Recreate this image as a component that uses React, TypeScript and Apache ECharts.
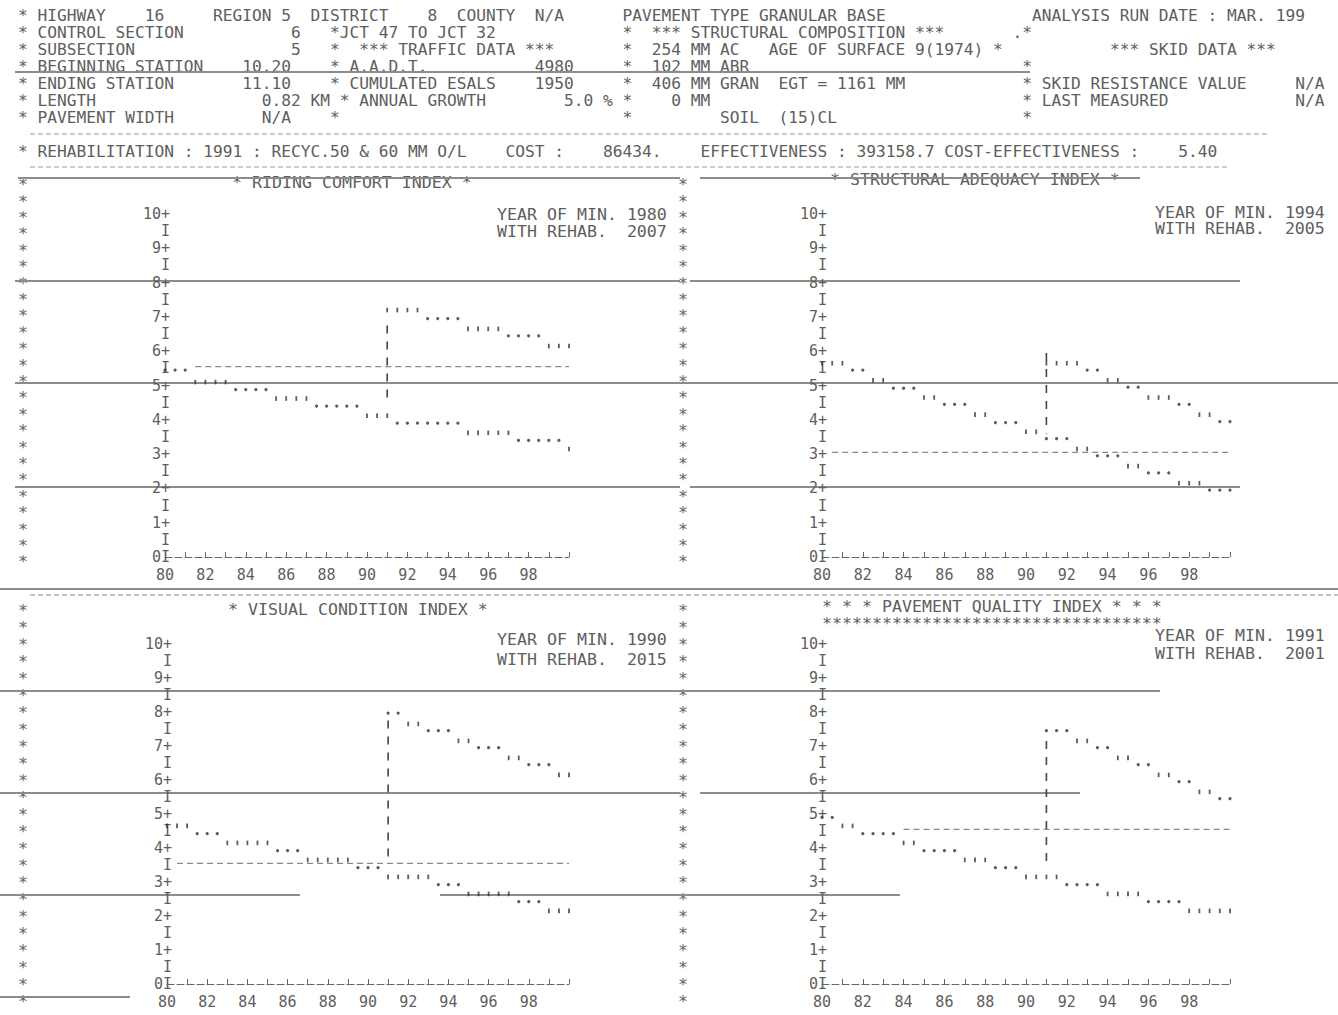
import React, { useEffect, useRef } from "react";
import * as echarts from "echarts";

// ---------------- data ----------------
const years = [80, 80.5, 81, 81.5, 82, 82.5, 83, 83.5, 84, 84.5, 85, 85.5, 86, 86.5, 87, 87.5, 88, 88.5, 89, 89.5, 90, 90.5, 91, 91.5, 92, 92.5, 93, 93.5, 94, 94.5, 95, 95.5, 96, 96.5, 97, 97.5, 98, 98.5, 99, 99.5, 100];
const rehabYears = [91, 91.5, 92, 92.5, 93, 93.5, 94, 94.5, 95, 95.5, 96, 96.5, 97, 97.5, 98, 98.5, 99, 99.5, 100];
const xTickLabels = ["80", "82", "84", "86", "88", "90", "92", "94", "96", "98"];
const rehabYear = 91;

// Riding Comfort Index
const rciNoRehab = [5.45, 5.45, 5.45, 5.1, 5.1, 5.1, 5.1, 4.88, 4.88, 4.88, 4.88, 4.62, 4.62, 4.62, 4.62, 4.4, 4.4, 4.4, 4.4, 4.4, 4.12, 4.12, 4.12, 3.9, 3.9, 3.9, 3.9, 3.9, 3.9, 3.9, 3.62, 3.62, 3.62, 3.62, 3.62, 3.4, 3.4, 3.4, 3.4, 3.4, 3.15];
const rciRehab = [7.2, 7.2, 7.2, 7.2, 6.95, 6.95, 6.95, 6.95, 6.65, 6.65, 6.65, 6.65, 6.45, 6.45, 6.45, 6.45, 6.15, 6.15, 6.15];
const rciConnector = [6.75, 4.55];
const rciTrigger = [5.55, 81.5, 100];

// Structural Adequacy Index
const saiNoRehab = [5.65, 5.65, 5.65, 5.45, 5.45, 5.15, 5.15, 4.92, 4.92, 4.92, 4.65, 4.65, 4.45, 4.45, 4.45, 4.15, 4.15, 3.92, 3.92, 3.92, 3.65, 3.65, 3.45, 3.45, 3.45, 3.15, 3.15, 2.95, 2.95, 2.95, 2.65, 2.65, 2.45, 2.45, 2.45, 2.15, 2.15, 2.15, 1.95, 1.95, 1.95];
const saiRehab = [5.65, 5.65, 5.65, 5.65, 5.45, 5.45, 5.15, 5.15, 4.95, 4.95, 4.65, 4.65, 4.65, 4.45, 4.45, 4.15, 4.15, 3.95, 3.95];
const saiConnector = [5.95, 3.6];
const saiTrigger = [3.05, 80.5, 100];

// Visual Condition Index
const vciNoRehab = [4.65, 4.65, 4.65, 4.42, 4.42, 4.42, 4.15, 4.15, 4.15, 4.15, 4.15, 3.92, 3.92, 3.92, 3.65, 3.65, 3.65, 3.65, 3.65, 3.42, 3.42, 3.42, 3.15, 3.15, 3.15, 3.15, 3.15, 2.92, 2.92, 2.92, 2.65, 2.65, 2.65, 2.65, 2.65, 2.42, 2.42, 2.42, 2.15, 2.15, 2.15];
const vciRehab = [7.97, 7.97, 7.65, 7.65, 7.45, 7.45, 7.45, 7.15, 7.15, 6.95, 6.95, 6.95, 6.65, 6.65, 6.45, 6.45, 6.45, 6.15, 6.15];
const vciConnector = [7.75, 3.55];
const vciTrigger = [3.55, 80.5, 100];

// Pavement Quality Index
const pqiNoRehab = [4.9, 4.9, 4.65, 4.65, 4.42, 4.42, 4.42, 4.42, 4.15, 4.15, 3.92, 3.92, 3.92, 3.92, 3.65, 3.65, 3.65, 3.42, 3.42, 3.42, 3.15, 3.15, 3.15, 3.15, 2.92, 2.92, 2.92, 2.92, 2.65, 2.65, 2.65, 2.65, 2.42, 2.42, 2.42, 2.42, 2.15, 2.15, 2.15, 2.15, 2.15];
const pqiRehab = [7.45, 7.45, 7.45, 7.15, 7.15, 6.95, 6.95, 6.65, 6.65, 6.45, 6.45, 6.15, 6.15, 5.95, 5.95, 5.65, 5.65, 5.45, 5.45];
const pqiConnector = [7.15, 3.45];
const pqiTrigger = [4.55, 84, 100];

// ---------------- texts (row y, printer column, text) ----------------
const headerRows: [number, number, string][][] = [
  [[16, 0, "* HIGHWAY"], [16, 13, "16"], [16, 20, "REGION 5"], [16, 30, "DISTRICT"], [16, 42, "8"], [16, 45, "COUNTY"], [16, 53, "N/A"], [16, 62, "PAVEMENT TYPE GRANULAR BASE"], [16, 104, "ANALYSIS RUN DATE : MAR. 199"]],
  [[33, 0, "* CONTROL SECTION"], [33, 28, "6"], [33, 32, "*JCT 47 TO JCT 32"], [33, 62, "*"], [33, 65, "*** STRUCTURAL COMPOSITION ***"], [33, 102, ".*"]],
  [[50, 0, "* SUBSECTION"], [50, 28, "5"], [50, 32, "*"], [50, 35, "*** TRAFFIC DATA ***"], [50, 62, "*"], [50, 65, "254 MM AC"], [50, 77, "AGE OF SURFACE"], [50, 92, "9(1974)"], [50, 100, "*"], [50, 112, "*** SKID DATA ***"]],
  [[67, 0, "* BEGINNING STATION"], [67, 23, "10.20"], [67, 32, "* A.A.D.T."], [67, 53, "4980"], [67, 62, "*"], [67, 65, "102 MM ABR"], [67, 103, "*"]],
  [[84, 0, "* ENDING STATION"], [84, 23, "11.10"], [84, 32, "* CUMULATED ESALS"], [84, 53, "1950"], [84, 62, "*"], [84, 65, "406 MM GRAN  EGT = 1161 MM"], [84, 103, "* SKID RESISTANCE VALUE"], [84, 131, "N/A"]],
  [[101, 0, "* LENGTH"], [101, 25, "0.82 KM * ANNUAL GROWTH"], [101, 56, "5.0 % *"], [101, 67, "0 MM"], [101, 103, "* LAST MEASURED"], [101, 131, "N/A"]],
  [[118, 0, "* PAVEMENT WIDTH"], [118, 25, "N/A"], [118, 32, "*"], [118, 62, "*"], [118, 72, "SOIL  (15)CL"], [118, 103, "*"]],
  [[152, 0, "* REHABILITATION : 1991 : RECYC.50 & 60 MM O/L"], [152, 50, "COST :"], [152, 60, "86434."], [152, 70, "EFFECTIVENESS : 393158.7 COST-EFFECTIVENESS :"], [152, 119, "5.40"]],
];

const panelTitles = ["* RIDING COMFORT INDEX *", "* STRUCTURAL ADEQUACY INDEX *", "* VISUAL CONDITION INDEX *", "* * * PAVEMENT QUALITY INDEX * * *"];
const yearOfMin = ["YEAR OF MIN. 1980", "YEAR OF MIN. 1994", "YEAR OF MIN. 1990", "YEAR OF MIN. 1991"];
const withRehab = ["WITH REHAB.  2007", "WITH REHAB.  2005", "WITH REHAB.  2015", "WITH REHAB.  2001"];

// ---------------- layout / style ----------------
const MONO = '"DejaVu Sans Mono", "Liberation Mono", monospace';
const PITCH = 9.75;
const SX = 10 / 9.03;
const SXH = PITCH / 9.03;
const TEXT = "#5e5e5e";
const DOT = "#333";

const layout = [
  { left: 165, top: 214, width: 404, height: 343, titleX: 232, titleY: 183, infoX: 497, infoY: [215, 232] },
  { left: 822, top: 214, width: 408, height: 343, titleX: 830, titleY: 180, infoX: 1155, infoY: [213, 229] },
  { left: 167, top: 644, width: 402, height: 340, titleX: 228, titleY: 610, infoX: 497, infoY: [640, 660] },
  { left: 822, top: 644, width: 408, height: 340, titleX: 822, titleY: 607, infoX: 1155, infoY: [636, 654] },
];

function txt(x: number, y: number, s: string, fill = TEXT, sx = SX) {
  return {
    type: "text",
    x,
    y,
    scaleX: sx,
    silent: true,
    style: { text: s, font: `15px ${MONO}`, fill, verticalAlign: "middle", textVerticalAlign: "middle", align: "left" },
  };
}
function hline(x1: number, x2: number, y: number, color = "#7e7e7e", w = 2, dash?: number[]) {
  return {
    type: "line",
    silent: true,
    shape: { x1, y1: y, x2, y2: y },
    style: { stroke: color, lineWidth: w, lineDash: dash },
  };
}

function glyphSymbol(val: number[]) {
  const y = val[1];
  const d = y - Math.round(y * 2) / 2;
  return d > 0.001 ? "rect" : "circle";
}
function glyphSize(val: number[]) {
  const y = val[1];
  const d = y - Math.round(y * 2) / 2;
  return d > 0.001 ? [1.8, 4.6] : 3.2;
}

function buildOption() {
  const noRehabs = [rciNoRehab, saiNoRehab, vciNoRehab, pqiNoRehab];
  const rehabs = [rciRehab, saiRehab, vciRehab, pqiRehab];
  const connectors = [rciConnector, saiConnector, vciConnector, pqiConnector];
  const triggers = [rciTrigger, saiTrigger, vciTrigger, pqiTrigger];

  const grid: any[] = [];
  const xAxis: any[] = [];
  const yAxis: any[] = [];
  const series: any[] = [];
  const graphic: any[] = [];

  layout.forEach((L, i) => {
    grid.push({ left: L.left, top: L.top, width: L.width, height: L.height, containLabel: false });
    xAxis.push({
      gridIndex: i,
      type: "value",
      min: 80,
      max: 100,
      interval: 2,
      axisLine: { show: true, lineStyle: { color: "#666", width: 1, type: [7, 3] } },
      axisTick: { show: true, inside: true, length: 5, lineStyle: { color: "#666" } },
      minorTick: { show: true, splitNumber: 2, length: 5, lineStyle: { color: "#666" } },
      splitLine: { show: false },
      axisLabel: {
        margin: 10,
        fontFamily: MONO,
        fontSize: 15,
        color: TEXT,
        formatter: (v: number) => xTickLabels[(v - 80) / 2] ?? "",
      },
    });
    yAxis.push({
      gridIndex: i,
      type: "value",
      min: 0,
      max: 10,
      interval: 0.5,
      axisLine: { show: false },
      axisTick: { show: false },
      splitLine: { show: false },
      axisLabel: {
        margin: -5,
        align: "right",
        fontFamily: MONO,
        fontSize: 15,
        color: TEXT,
        formatter: (v: number) => (v === 0 ? "0I" : Number.isInteger(v) ? `${v}+` : "I"),
      },
    });

    const trig = triggers[i];
    series.push({
      type: "line",
      xAxisIndex: i,
      yAxisIndex: i,
      data: [[trig[1], trig[0]], [trig[2], trig[0]]],
      symbol: "none",
      silent: true,
      z: 1,
      lineStyle: { color: "#8a8a8a", width: 1.2, type: [6, 4] },
    });
    const conn = connectors[i];
    series.push({
      type: "line",
      xAxisIndex: i,
      yAxisIndex: i,
      data: [[rehabYear, conn[0]], [rehabYear, conn[1]]],
      symbol: "none",
      silent: true,
      z: 2,
      lineStyle: { color: "#444", width: 1.6, type: [8, 8] },
    });
    series.push({
      type: "scatter",
      xAxisIndex: i,
      yAxisIndex: i,
      data: years.map((x, k) => [x, noRehabs[i][k]]),
      symbol: glyphSymbol,
      symbolSize: glyphSize,
      silent: true,
      z: 3,
      itemStyle: { color: DOT },
    });
    series.push({
      type: "scatter",
      xAxisIndex: i,
      yAxisIndex: i,
      data: rehabYears.map((x, k) => [x, rehabs[i][k]]),
      symbol: glyphSymbol,
      symbolSize: glyphSize,
      silent: true,
      z: 3,
      itemStyle: { color: DOT },
    });

    graphic.push(txt(L.titleX, L.titleY, panelTitles[i]));
    graphic.push(txt(L.infoX, L.infoY[0], yearOfMin[i]));
    graphic.push(txt(L.infoX, L.infoY[1], withRehab[i]));
  });

  graphic.push(txt(822, 624, "**********************************"));

  // header
  headerRows.forEach((row) => row.forEach(([y, c, s]) => graphic.push(txt(18 + c * PITCH, y, s, TEXT, SXH))));

  // asterisk columns
  for (let k = 0; k < 24; k++) {
    const y = 183 + k * 16.4;
    graphic.push(txt(18, y + 2, "*", "#666"));
    graphic.push(txt(678, y + 2, "*", "#666"));
  }
  for (let k = 0; k < 24; k++) {
    const y = 610 + k * 17;
    graphic.push(txt(18, y + 1, "*", "#666"));
    graphic.push(txt(678, y + 1, "*", "#666"));
  }

  // dashed printer separator rows
  graphic.push(hline(30, 1270, 134, "#9a9a9a", 1.2, [5, 3]));
  graphic.push(hline(30, 1230, 167, "#9a9a9a", 1.2, [5, 3]));
  graphic.push(hline(30, 1338, 595, "#8a8a8a", 1.2, [5, 3]));

  // scanned paper rule lines
  const rules: [number, number, number][] = [
    [15, 1030, 72], [18, 680, 178], [700, 1140, 178], [15, 680, 281], [690, 1240, 281],
    [15, 1338, 383], [15, 680, 487], [690, 1240, 487], [0, 1338, 589], [0, 1160, 691],
    [0, 680, 793], [700, 1080, 793], [0, 300, 895], [440, 900, 895], [0, 130, 997],
  ];
  rules.forEach(([a, b, y]) => graphic.push(hline(a, b, y, "#8c8c8c", 1.8)));

  return {
    animation: false,
    backgroundColor: "#ffffff",
    grid,
    xAxis,
    yAxis,
    series,
    graphic,
  };
}

export default function App() {
  const ref = useRef<HTMLDivElement>(null);
  useEffect(() => {
    document.body.style.margin = "0";
    if (!ref.current) return;
    const chart = echarts.init(ref.current, undefined, { renderer: "svg" });
    chart.setOption(buildOption() as any);
    return () => chart.dispose();
  }, []);
  return <div ref={ref} style={{ width: 1338, height: 1015, background: "#fff" }} />;
}
